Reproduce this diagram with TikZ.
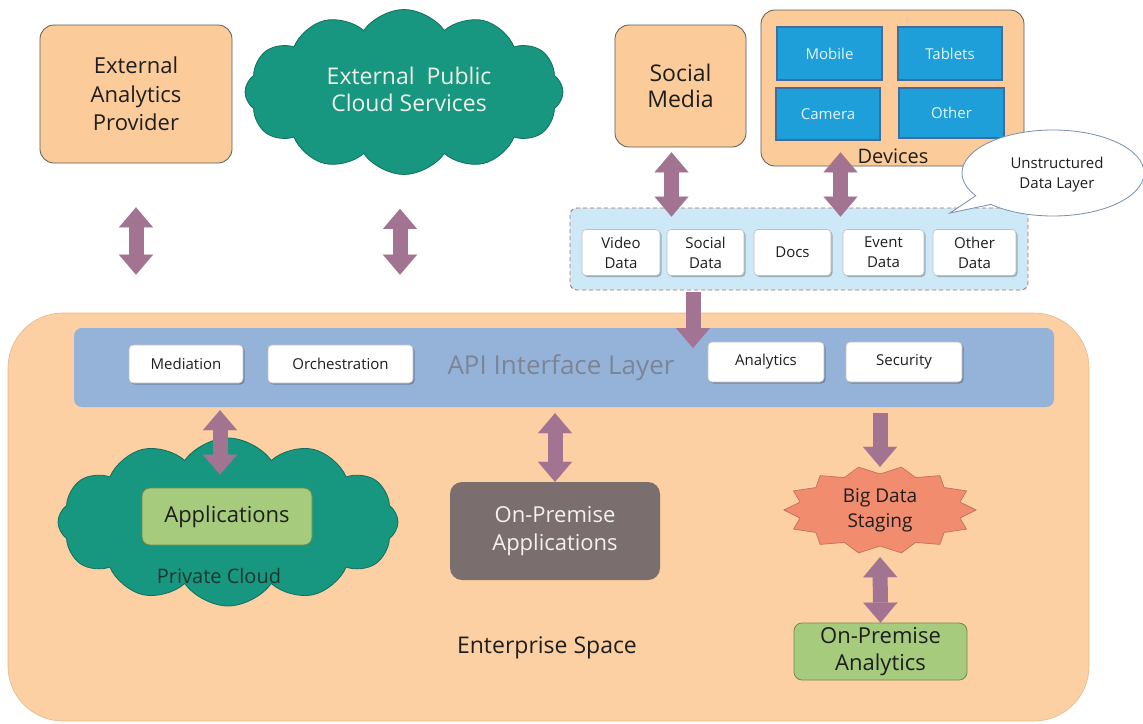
\documentclass[tikz,border=0pt]{standalone}
\usepackage{fontspec}
\setmainfont{Open Sans}
\usetikzlibrary{shapes.symbols,shapes.callouts,arrows.meta,shadows,calc}

\definecolor{peach}{HTML}{FBCC9A}
\definecolor{entfill}{HTML}{FCD0A2}
\definecolor{edge}{HTML}{5A5A5A}
\definecolor{tealc}{HTML}{17977F}
\definecolor{tealdark}{HTML}{0F6E5E}
\definecolor{apifill}{HTML}{95B3D8}
\definecolor{greenc}{HTML}{A6CB7C}
\definecolor{greendark}{HTML}{6E8A50}
\definecolor{greyapp}{HTML}{7A6E6E}
\definecolor{salmon}{HTML}{F28C6E}
\definecolor{salmondark}{HTML}{C07060}
\definecolor{arrowc}{HTML}{A27492}
\definecolor{devfill}{HTML}{1E9FD9}
\definecolor{devedge}{HTML}{3F6E9E}
\definecolor{udsfill}{HTML}{CDE9F8}
\definecolor{udsedge}{HTML}{B8705C}
\definecolor{ink}{HTML}{1E1E1E}
\definecolor{apitext}{HTML}{7C8597}
\definecolor{lighttext}{HTML}{F0F0E8}

\begin{document}
\begin{tikzpicture}[x=1pt,y=-1pt,
  every node/.style={align=center, text=ink, inner sep=0pt},
  lbig/.style={font=\fontsize{22}{28.5}\selectfont},
  lmid/.style={font=\fontsize{19}{25}\selectfont},
  lsmall/.style={font=\fontsize{15}{20}\selectfont},
  peachbox/.style={rectangle, rounded corners=14pt, draw=edge, line width=0.8pt, fill=peach},
  whitebox/.style={rectangle, rounded corners=4pt, draw=black!25, line width=0.6pt, fill=white,
    drop shadow={shadow xshift=1.5pt, shadow yshift=-1.5pt, fill=black, opacity=0.25}},
  devbtn/.style={rectangle, draw=devedge, line width=2.5pt, fill=devfill,
    text=white!88!devfill, font=\fontsize{15}{20}\selectfont},
  greenbox/.style={rectangle, rounded corners=8pt, draw=greendark, line width=0.8pt, fill=greenc},
  cloudshape/.style={cloud, cloud puffs=12, cloud puff arc=110, aspect=1.9,
    fill=tealc, draw=tealdark, line width=0.8pt},
  fatdbl/.style={draw=arrowc, line width=15pt,
    arrows={Triangle[width=34pt,length=20pt,line width=0.01pt]-Triangle[width=34pt,length=20pt,line width=0.01pt]}},
  fatone/.style={draw=arrowc, line width=15pt,
    arrows={-Triangle[width=34pt,length=20pt,line width=0.01pt]}}
]
\useasboundingbox (0,0) rectangle (1143,723);
\fill[white] (0,0) rectangle (1143,723);

% ---------- outside world ----------
\node[peachbox, lbig, minimum width=192pt, minimum height=138pt] (ext) at (136,94)
  {External\\Analytics\\Provider};

\node[cloudshape, minimum width=318pt, minimum height=165pt] (pub) at (404,92) {};
\node[font=\fontsize{23}{27}\selectfont, text=lighttext] (pubtxt) at (409,89)
  {External\ \ Public\\Cloud Services};

\node[peachbox, font=\fontsize{23}{26}\selectfont, minimum width=131pt, minimum height=122pt] (soc) at (680.5,86)
  {Social\\Media};

\node[peachbox, minimum width=263pt, minimum height=156pt] (dev) at (892.5,88) {};
\node[devbtn, minimum width=105pt, minimum height=53pt] (mob) at (829.5,53.5) {Mobile};
\node[devbtn, minimum width=104pt, minimum height=53pt] (tab) at (950,53.5) {Tablets};
\node[devbtn, minimum width=104pt, minimum height=52pt] (cam) at (828,114) {Camera};
\node[devbtn, minimum width=105pt, minimum height=50pt] (oth) at (951.5,113) {Other};
\node[font=\fontsize{20}{25}\selectfont] (devlbl) at (893,156) {Devices};

% ---------- unstructured data layer ----------
\node[rectangle, rounded corners=7pt, draw=udsedge, line width=0.9pt, fill=udsfill,
  dash pattern=on 4pt off 3pt, minimum width=458pt, minimum height=82pt] (uds) at (799,249) {};
\node[whitebox, lsmall, minimum width=78pt, minimum height=46pt] (vid) at (621,252.5) {Video\\Data};
\node[whitebox, lsmall, minimum width=77pt, minimum height=46pt] (sdata) at (705.5,252.5) {Social\\Data};
\node[whitebox, lsmall, minimum width=77pt, minimum height=46pt] (docs) at (792.5,252.5) {Docs};
\node[whitebox, lsmall, minimum width=81pt, minimum height=46pt] (evt) at (883.5,252.5) {Event\\Data};
\node[whitebox, lsmall, minimum width=83pt, minimum height=46pt] (odata) at (974.5,252.5) {Other\\Data};

\coordinate (tail) at (950,213);
\node[ellipse callout, callout absolute pointer={(tail)}, draw=apifill!80!black, line width=0.8pt,
  fill=white, minimum width=182pt, minimum height=86pt] (bub) at (1053,173) {};
\node[lsmall] (bubtxt) at (1057,175) {Unstructured\\Data Layer};

% ---------- enterprise space ----------
\node[rectangle, rounded corners=55pt, fill=entfill, draw=peach!90!black, line width=0.6pt,
  minimum width=1081pt, minimum height=408pt] (ent) at (548.5,517) {};

\node[rectangle, rounded corners=8pt, fill=apifill, minimum width=980pt, minimum height=79pt] (api) at (564,367.5) {};
\node[font=\fontsize{26}{30}\selectfont, text=apitext] (apitxt) at (561,368) {API Interface Layer};
\node[whitebox, lsmall, minimum width=114pt, minimum height=38pt] (med) at (186,364) {Mediation};
\node[whitebox, lsmall, minimum width=145pt, minimum height=38pt] (orc) at (340.5,364) {Orchestration};
\node[whitebox, lsmall, minimum width=116pt, minimum height=40pt] (ana) at (766,362) {Analytics};
\node[whitebox, lsmall, minimum width=116pt, minimum height=40pt] (sec) at (904,362) {Security};

\node[cloudshape, minimum width=340pt, minimum height=168pt] (priv) at (228,522) {};
\node[greenbox, lbig, minimum width=170pt, minimum height=57pt] (apps) at (227,516.5) {Applications};
\node[font=\fontsize{20}{24}\selectfont, text=ink!80!tealc] (privtxt) at (219,576) {Private Cloud};

\node[rectangle, rounded corners=12pt, fill=greyapp, lbig, text=white!95!black,
  minimum width=210pt, minimum height=98pt] (opa) at (555,531) {On-Premise\\Applications};

\node[rectangle, minimum width=190pt, minimum height=86pt] (big) at (880,510) {};
\draw[fill=salmon, draw=salmondark, line width=0.7pt, shift={(big.center)}]
  (0:96pt and 44pt)
  \foreach \i in {1,...,14} { -- ({\i*360/14-180/14}:82pt and 36pt) -- ({\i*360/14}:96pt and 44pt) } -- cycle;
\node[font=\fontsize{19}{25}\selectfont] (bigtxt) at (880,510) {Big Data\\Staging};

\node[greenbox, font=\fontsize{22}{27}\selectfont, minimum width=173pt, minimum height=57pt] (opan) at (880.5,651.5)
  {On-Premise\\Analytics};

\node[font=\fontsize{23}{27}\selectfont] (enttxt) at (547,648) {Enterprise Space};

% ---------- connectors ----------
\coordinate (apiin) at (693,348);
\draw[fatdbl, shorten <=44pt, shorten >=38pt] (ext.south) -- (ext.south |- ent.north);
\draw[fatdbl, shorten <=34pt, shorten >=38pt] ([xshift=-4pt]pub.south) -- ([xshift=-4pt]pub.south |- ent.north);
\draw[fatdbl, shorten <=5pt, shorten >=-9pt] ([xshift=-9pt]soc.south) -- ([xshift=-9pt]soc.south |- uds.north);
\draw[fatdbl, shorten <=-14pt, shorten >=-9pt] ([xshift=-52pt]dev.south) -- ([xshift=-52pt]dev.south |- uds.north);
\draw[fatone, shorten <=2pt] (uds.south -| apiin) -- (apiin);
\draw[fatdbl, shorten <=3pt, shorten >=13pt] ([xshift=-7pt]api.south -| apps) -- ([xshift=-7pt]apps.north);
\draw[fatdbl, shorten <=6pt] (api.south -| opa) -- (opa.north);
\draw[fatone, shorten <=6pt] (api.south -| big) -- (big.north);
\draw[fatdbl, shorten <=4pt] (big.south) -- (opan.north);
\end{tikzpicture}
\end{document}
